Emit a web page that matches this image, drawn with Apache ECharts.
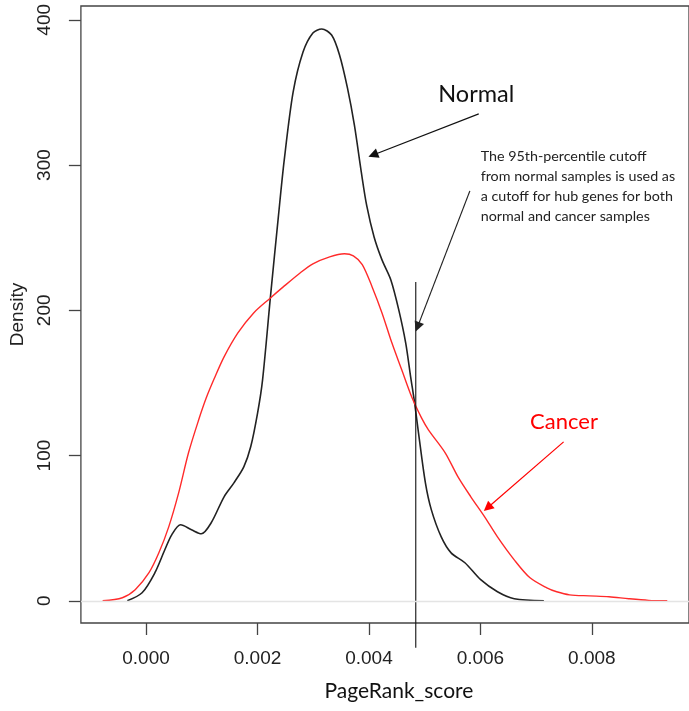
<!DOCTYPE html>
<html><head><meta charset="utf-8">
<script src="https://cdn.jsdelivr.net/npm/echarts@6/dist/echarts.min.js"></script>
<style>html,body{margin:0;padding:0;background:#fff}#c{width:689px;height:711px}</style>
</head><body><div id="c"></div>
<script>
// Normal samples density
const normalX = [-0.000337,-0.000071,0.000159,0.000337,0.000461,0.000620,0.000815,0.000992,0.001169,0.001400,0.001577,0.001754,0.001878,0.002002,0.002091,0.002232,0.002374,0.002480,0.002640,0.002817,0.002994,0.003153,0.003330,0.003472,0.003614,0.003738,0.003862,0.003960,0.004092,0.004234,0.004393,0.004535,0.004659,0.004748,0.004819,0.004889,0.005013,0.005120,0.005297,0.005474,0.005722,0.006005,0.006306,0.006607,0.007139];
const normalY = [0,5.5,19.3,35.1,45.4,52.3,48.9,46.1,53.7,71.6,81.2,92.2,106.0,129.4,152.1,209.2,264.3,303.5,350.3,377.8,390.9,393.7,389.5,375.8,353.1,327.6,295.3,272.0,250.5,234.7,220.9,200.3,177.6,154.2,136.3,115.6,81.2,62.6,44.0,33.0,26.2,14.5,6.2,1.4,0];
// Cancer samples density
const cancerX = [-0.000779,-0.000425,-0.000195,0.000053,0.000230,0.000407,0.000585,0.000762,0.000939,0.001081,0.001222,0.001400,0.001648,0.001931,0.002232,0.002462,0.002764,0.002994,0.003295,0.003560,0.003720,0.003880,0.004057,0.004234,0.004411,0.004588,0.004766,0.004943,0.005067,0.005368,0.005598,0.005828,0.006076,0.006306,0.006607,0.006890,0.007192,0.007369,0.007600,0.007954,0.008308,0.008662,0.009017,0.009353];
const cancerY = [0,2.1,7.6,19.3,33.0,50.9,74.3,101.9,123.9,139.7,152.8,167.9,184.4,198.2,208.5,216.1,225.7,232.0,236.8,238.9,237.5,231.5,216.1,198.2,177.6,159.0,140.4,125.9,117.7,101.9,85.3,71.6,57.8,44.0,28.2,15.8,8.9,6.2,4.1,3.4,2.8,1.4,0.3,0];
// Axis ticks
const xTicks = [0, 0.002, 0.004, 0.006, 0.008];
const yTicks = [0, 100, 200, 300, 400];
// Cutoff (95th percentile of normal)
const cutoffX = 0.00484;
const cutoffYRange = [219.5, -32.3];
// Annotations (data coordinates)
const annotationTexts = ['Normal', 'The 95th-percentile cutoff\nfrom normal samples is used as\na cutoff for hub genes for both\nnormal and cancer samples', 'Cancer'];
const annotationAnchors = [[0.005244, 348.9], [0.006005, 313.0], [0.006891, 123.2]];
const arrowFrom = [[0.005970, 335.2], [0.005811, 282.2], [0.007493, 109.4]];
const arrowTo = [[0.004074, 306.9], [0.004872, 188.6], [0.006129, 64.0]];
const annotationColors = ['#111', '#222', '#ff0000'];

const zip = (a, b) => a.map((v, i) => [v, b[i]]);
const chart = echarts.init(document.getElementById('c'));
const axisFont = 'Liberation Sans, Arial, sans-serif';
chart.setOption({
  animation: false,
  grid: { left: 78, top: 6, width: 616, height: 617, show: true, borderColor: '#444', borderWidth: 1.3, backgroundColor: 'transparent' },
  xAxis: {
    type: 'value', min: -0.001169, max: 0.009743,
    axisLine: { show: false, onZero: false },
    splitLine: { show: false },
    axisTick: { show: true, inside: false, length: 12, lineStyle: { color: '#444', width: 1.3 }, customValues: xTicks },
    axisLabel: { customValues: xTicks, margin: 26, fontSize: 19, fontFamily: axisFont, color: '#222', formatter: v => v.toFixed(3) },
    name: 'PageRank_score', nameLocation: 'middle', nameGap: 58,
    nameTextStyle: { fontSize: 21, fontFamily: 'Lato, sans-serif', color: '#111', padding: [0, 0, 0, 28] }
  },
  yAxis: {
    type: 'value', min: -15.3, max: 409.5,
    axisLine: { show: false, onZero: false },
    splitLine: { show: false },
    axisTick: { show: true, inside: false, length: 12, lineStyle: { color: '#444', width: 1.3 }, customValues: yTicks },
    axisLabel: { customValues: yTicks, rotate: 90, margin: 27, fontSize: 19, fontFamily: axisFont, color: '#222' },
    name: 'Density', nameLocation: 'middle', nameGap: 48,
    nameTextStyle: { fontSize: 19, fontFamily: axisFont, color: '#222' }
  },
  series: [
    {
      type: 'line', data: zip(normalX, normalY), smooth: 0.3, showSymbol: false,
      lineStyle: { color: '#222', width: 1.6 }, z: 3,
      markLine: { silent: true, symbol: 'none', label: { show: false }, lineStyle: { color: '#e4e4e4', width: 1.3, type: 'solid' }, data: [{ yAxis: 0 }] }
    },
    {
      type: 'line', data: zip(cancerX, cancerY), smooth: 0.3, showSymbol: false,
      lineStyle: { color: '#ff2a2a', width: 1.4 }, z: 3
    },
    {
      type: 'line', data: [[cutoffX, cutoffYRange[0]], [cutoffX, cutoffYRange[1]]], clip: false, showSymbol: false,
      lineStyle: { color: '#111', width: 1.1 }, z: 4,
      markLine: {
        silent: true, symbol: ['none', 'triangle'], symbolSize: 10, label: { show: false },
        data: arrowFrom.map((f, i) => [
          { coord: f, symbol: 'none', lineStyle: { color: annotationColors[i], width: 1.2, type: 'solid' }, itemStyle: { color: annotationColors[i] } },
          { coord: arrowTo[i], symbol: 'triangle', symbolSize: 10, itemStyle: { color: annotationColors[i] } }
        ])
      }
    }
  ]
});
const fonts = [23.5, 14.3, 22];
chart.setOption({
  graphic: annotationTexts.map((t, i) => {
    const p = chart.convertToPixel({ gridIndex: 0 }, annotationAnchors[i]);
    return {
      type: 'text', x: p[0], y: p[1],
      style: { text: t, fill: annotationColors[i], fontSize: fonts[i], fontFamily: 'Lato, sans-serif', lineHeight: i === 1 ? 20 : fonts[i], verticalAlign: i === 1 ? 'top' : 'middle', align: 'left' }
    };
  })
});
</script></body></html>
